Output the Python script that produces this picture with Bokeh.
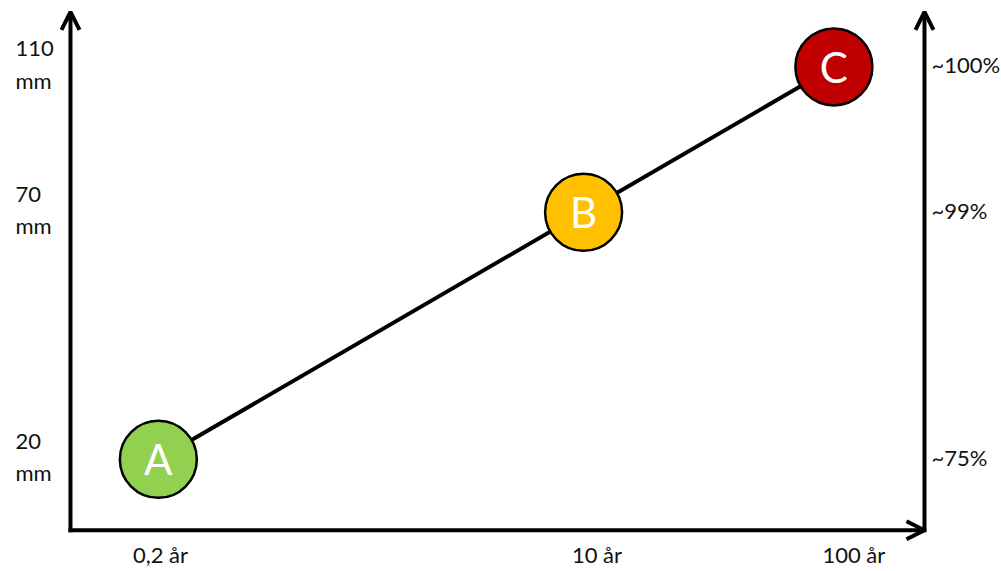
from bokeh.plotting import figure
from bokeh.models import Range1d, LogScale, Arrow, OpenHead, ColumnDataSource
from bokeh.core.properties import value
from bokeh.embed import file_html
from bokeh.resources import INLINE

# ---- data ----
points = ["A", "B", "C"]
return_years = [0.2, 10, 100]
rain_labels = ["20\nmm", "70\nmm", "110\nmm"]
share_labels = ["~75%", "~99%", "~100%"]
year_labels = ["0,2 år", "10 år", "100 år"]
colors = ["#92D050", "#FFC000", "#C00000"]

FONT = "Lato"
W, H = 1001, 571

# view ranges (log scales on both axes)
X_RANGE = (0.04682, 467.3)
Y_RANGE = (0.03386, 286.1)
# where the drawn axis lines sit
X_LEFT, X_RIGHT = 0.08913, 230.1
Y_BOTTOM, Y_TOP = 0.06512, 238.6

src = ColumnDataSource(dict(x=return_years, y=return_years, name=points,
                            color=colors, rain=rain_labels, share=share_labels,
                            year=year_labels,
                            xl=[X_LEFT] * 3, xr=[X_RIGHT] * 3, yb=[Y_BOTTOM] * 3))

p = figure(width=W, height=H, x_axis_type="log", y_axis_type="log",
           x_range=Range1d(*X_RANGE), y_range=Range1d(*Y_RANGE),
           x_axis_location=None, y_axis_location=None,
           output_backend="svg", toolbar_location=None, min_border=0)
p.outline_line_color = None
p.grid.visible = False
p.background_fill_color = "white"
p.border_fill_color = "white"

# separate (slightly shifted) range for the year labels under the x axis
p.extra_x_ranges = {"labels": Range1d(0.04766, 375.5)}
p.extra_x_scales = {"labels": LogScale()}

# axes drawn as arrows
for xs, ys, xe, ye in [(X_LEFT, Y_BOTTOM, X_LEFT, Y_TOP),
                       (X_RIGHT, Y_BOTTOM, X_RIGHT, Y_TOP),
                       (X_LEFT, Y_BOTTOM, X_RIGHT, Y_BOTTOM)]:
    p.add_layout(Arrow(end=OpenHead(size=18, line_width=4, line_color="black"),
                       x_start=xs, y_start=ys, x_end=xe, y_end=ye,
                       line_width=4, line_color="black", line_cap="square"))

# axis labels
p.text("xl", "y", text="rain", source=src, text_font=value(FONT),
       text_font_size="22px", text_color="#111111", text_align="left",
       text_baseline="middle", text_line_height=1.2, x_offset=-55, y_offset=-3)
p.text("xr", "y", text="share", source=src, text_font=value(FONT),
       text_font_size="22px", text_color="#111111", text_align="left",
       text_baseline="middle", x_offset=7, y_offset=-2)
p.text("x", "yb", text="year", source=src, x_range_name="labels",
       text_font=value(FONT), text_font_size="22px", text_color="#111111",
       text_align="center", text_baseline="middle", y_offset=24)

# connecting line and points
p.line("x", "y", source=src, line_width=4, line_color="black")
p.scatter("x", "y", source=src, size=77, fill_color="color",
          line_color="black", line_width=2.5)
p.text("x", "y", text="name", source=src, text_font=value(FONT),
       text_font_size="42px", text_color="white",
       text_align="center", text_baseline="middle")

open("out.html", "w").write(file_html(p, INLINE))
